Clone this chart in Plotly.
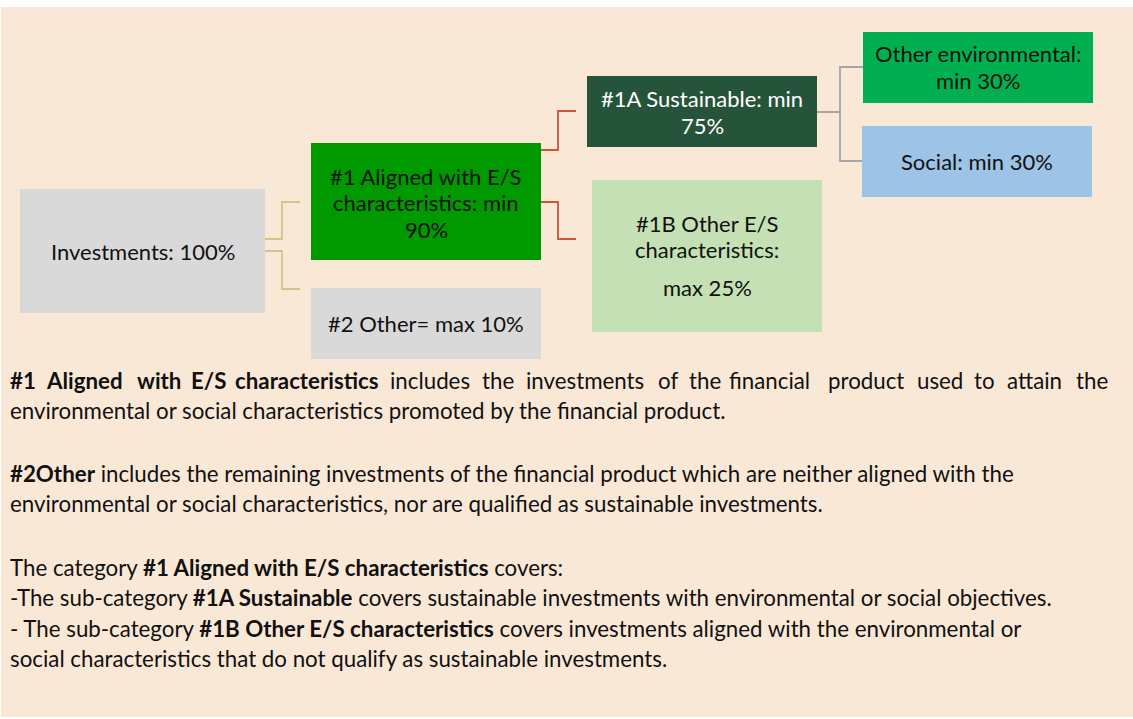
import plotly.graph_objects as go

# ---------------- data ----------------
node_ids = ["inv", "aligned", "other", "sust", "otheres", "env", "social"]
node_lines = [
    ["Investments: 100%"],
    ["#1 Aligned with E/S", "characteristics: min", "90%"],
    ["#2 Other= max 10%"],
    ["#1A Sustainable: min", "75%"],
    ["#1B Other E/S", "characteristics:", "max 25%"],
    ["Other environmental:", "min 30%"],
    ["Social: min 30%"],
]
edges_parent = ["inv", "inv", "aligned", "aligned", "sust", "sust"]
edges_child = ["aligned", "other", "sust", "otheres", "env", "social"]

line1_words = ["<b>#1</b>", "<b>Aligned</b>", "<b>with</b>", "<b>E/S</b>", "<b>characteristics</b>",
               "includes", "the", "investments", "of", "the", "financial", "product",
               "used", "to", "attain", "the"]
body_lines = [
    "environmental or social characteristics promoted by the financial product.",
    "<b>#2Other</b> includes the remaining investments of the financial product which are neither aligned with the",
    "environmental or social characteristics, nor are qualified as sustainable investments.",
    "The category <b>#1 Aligned with E/S characteristics</b> covers:",
    "-The sub-category <b>#1A Sustainable</b> covers sustainable investments with environmental or social objectives.",
    "- The sub-category <b>#1B Other E/S characteristics</b> covers investments aligned with the environmental or",
    "social characteristics that do not qualify as sustainable investments.",
]

# ---------------- layout / style ----------------
FONT = "Lato"
FS_BOX = 22
FS_BODY = 22.3
box_geom = {  # x0, x1, y0, y1
    "inv": (20, 265, 189, 313),
    "aligned": (311, 541, 143, 260),
    "other": (311, 541, 288, 359),
    "sust": (587, 817, 76, 147),
    "otheres": (592, 822, 180, 332),
    "env": (863, 1093, 32, 103),
    "social": (862, 1092, 126, 197),
}
box_fill = {
    "inv": "#D9D9D9", "aligned": "#009900", "other": "#D9D9D9", "sust": "#26543A",
    "otheres": "#C5E0B4", "env": "#00B050", "social": "#9DC3E6",
}
box_text_color = {k: "#111111" for k in box_geom}
box_text_color["sust"] = "#FFFFFF"
box_line_y = {
    "inv": [251], "aligned": [176, 202, 229], "other": [323], "sust": [98, 125],
    "otheres": [223, 249, 287], "env": [53, 80], "social": [161],
}
edge_style = {  # parent: (color, elbow x)
    "inv": ("#D3C48C", 282),
    "aligned": ("#C9553A", 558),
    "sust": ("#A6A6A6", 840),
}
edge_parent_y = {("inv", "aligned"): 239, ("inv", "other"): 251,
                 ("aligned", "sust"): 150, ("aligned", "otheres"): 202,
                 ("sust", "env"): 112, ("sust", "social"): 112}
edge_child_y = {("inv", "aligned"): 202, ("inv", "other"): 289,
                ("aligned", "sust"): 111, ("aligned", "otheres"): 239,
                ("sust", "env"): 67, ("sust", "social"): 161}
edge_end_x = {("inv", "aligned"): 300, ("inv", "other"): 300,
              ("aligned", "sust"): 576, ("aligned", "otheres"): 576,
              ("sust", "env"): 863, ("sust", "social"): 862}

line1_x = [8, 44, 135, 189, 233, 388, 480, 524, 656, 687, 727, 826, 915, 972, 1005, 1074]
line1_y = 380
body_y = [410, 473, 503, 567, 597, 628, 658]
BODY_X = 8

W, H = 1133, 719
fig = go.Figure()
# invisible trace to establish axes
fig.add_trace(go.Scatter(x=[0, W], y=[0, H], mode="markers", marker=dict(opacity=0), hoverinfo="skip"))

shapes = []
# background panel
shapes.append(dict(type="rect", xref="x", yref="y", x0=1, x1=W, y0=7, y1=717,
                   fillcolor="#FAE8D7", line=dict(width=0), layer="below"))

# connectors
for p, c in zip(edges_parent, edges_child):
    color, ex = edge_style[p]
    px = box_geom[p][1]
    py = edge_parent_y[(p, c)]
    cy = edge_child_y[(p, c)]
    cx = edge_end_x[(p, c)]
    path = f"M{px},{py} L{ex},{py} L{ex},{cy} L{cx},{cy}"
    shapes.append(dict(type="path", xref="x", yref="y", path=path,
                       line=dict(color=color, width=1.8), layer="below"))

annotations = []
for nid, lines in zip(node_ids, node_lines):
    x0, x1, y0, y1 = box_geom[nid]
    shapes.append(dict(type="rect", xref="x", yref="y", x0=x0, x1=x1, y0=y0, y1=y1,
                       fillcolor=box_fill[nid], line=dict(width=0), layer="below"))
    cx = (x0 + x1) / 2
    for txt, ly in zip(lines, box_line_y[nid]):
        annotations.append(dict(x=cx, y=ly, xref="x", yref="y", text=txt, showarrow=False,
                                xanchor="center", yanchor="middle",
                                font=dict(family=FONT, size=FS_BOX, color=box_text_color[nid])))

for w, wx in zip(line1_words, line1_x):
    annotations.append(dict(x=wx, y=line1_y, xref="x", yref="y", text=w, showarrow=False,
                            xanchor="left", yanchor="middle",
                            font=dict(family=FONT, size=FS_BODY, color="#111111")))
for txt, ly in zip(body_lines, body_y):
    annotations.append(dict(x=BODY_X, y=ly, xref="x", yref="y", text=txt, showarrow=False,
                            xanchor="left", yanchor="middle",
                            font=dict(family=FONT, size=FS_BODY, color="#111111")))

fig.update_layout(
    width=W, height=H, margin=dict(l=0, r=0, t=0, b=0),
    paper_bgcolor="white", plot_bgcolor="white", showlegend=False,
    xaxis=dict(range=[0, W], visible=False, fixedrange=True),
    yaxis=dict(range=[H, 0], visible=False, fixedrange=True),
    shapes=shapes, annotations=annotations,
)

fig.write_html("out.html", config={"displayModeBar": False},
               post_script="document.body.style.margin='0';document.body.style.overflow='hidden';")
